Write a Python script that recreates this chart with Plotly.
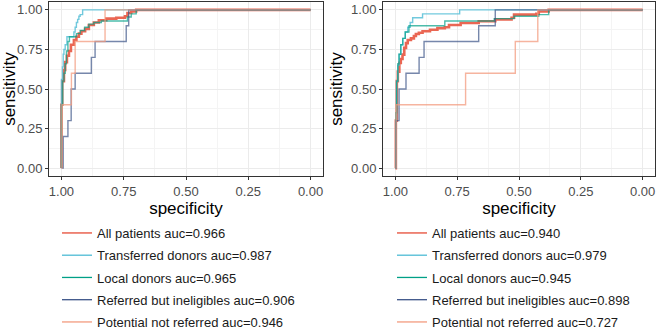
import plotly.graph_objects as go

# ---------------- data ----------------
series_names = ["All patients", "Transferred donors", "Local donors",
                "Referred but ineligibles", "Potential not referred"]
auc_left = [0.966, 0.987, 0.965, 0.906, 0.946]
auc_right = [0.940, 0.979, 0.945, 0.898, 0.727]
colors = ["rgba(230,75,53,0.85)", "rgba(77,187,213,0.8)", "rgba(0,160,135,0.7)",
          "rgba(60,84,136,0.7)", "rgba(243,155,127,0.75)"]
widths = [2.6, 1.4, 1.4, 1.4, 1.4]

# left panel: (specificity where the step occurs, sensitivity after the step)
L_all_spec = [1.0, 1.0, 0.997, 0.99, 0.985, 0.978, 0.97, 0.962, 0.95, 0.94, 0.93, 0.92,
              0.905, 0.89, 0.87, 0.85, 0.82, 0.78, 0.745, 0.735, 0.72, 0.70, 0.0]
L_all_sens = [0.0, 0.40, 0.55, 0.62, 0.67, 0.71, 0.74, 0.78, 0.81, 0.83, 0.85, 0.865,
              0.88, 0.905, 0.92, 0.935, 0.945, 0.95, 0.96, 0.98, 0.99, 1.0, 1.0]
L_tra_spec = [1.0, 1.0, 0.996, 0.993, 0.99, 0.985, 0.978, 0.955, 0.95, 0.945, 0.94, 0.935,
              0.93, 0.925, 0.915, 0.0]
L_tra_sens = [0.0, 0.56, 0.64, 0.72, 0.75, 0.78, 0.83, 0.83, 0.86, 0.89, 0.92, 0.94,
              0.96, 0.97, 1.0, 1.0]
L_loc_spec = [1.0, 1.0, 0.995, 0.99, 0.985, 0.98, 0.974, 0.968, 0.95, 0.94, 0.925, 0.907,
              0.89, 0.87, 0.84, 0.745, 0.735, 0.72, 0.70, 0.0]
L_loc_sens = [0.0, 0.40, 0.55, 0.60, 0.66, 0.74, 0.80, 0.83, 0.83, 0.85, 0.87, 0.89,
              0.91, 0.92, 0.93, 0.93, 0.955, 0.975, 1.0, 1.0]
L_ref_spec = [1.0, 0.993, 0.974, 0.961, 0.945, 0.88, 0.865, 0.74, 0.73, 0.0]
L_ref_sens = [0.0, 0.2, 0.3, 0.5, 0.6, 0.7, 0.8, 0.9, 1.0, 1.0]
L_pot_spec = [1.0, 0.998, 0.96, 0.945, 0.825, 0.0]
L_pot_sens = [0.0, 0.4, 0.6, 0.8, 1.0, 1.0]

# right panel
R_all_spec = [1.0, 0.998, 0.994, 0.99, 0.984, 0.978, 0.971, 0.964, 0.957, 0.95, 0.937,
              0.925, 0.917, 0.905, 0.89, 0.86, 0.83, 0.80, 0.783, 0.736, 0.663, 0.596,
              0.53, 0.52, 0.43, 0.42, 0.38, 0.0]
R_all_sens = [0.0, 0.3, 0.55, 0.61, 0.665, 0.69, 0.717, 0.76, 0.79, 0.81, 0.82,
              0.835, 0.848, 0.856, 0.865, 0.875, 0.885, 0.89, 0.905, 0.917, 0.928, 0.94,
              0.95, 0.97, 0.975, 0.99, 1.0, 1.0]
R_tra_spec = [1.0, 0.998, 0.995, 0.99, 0.985, 0.978, 0.97, 0.96, 0.95, 0.94, 0.93, 0.89,
              0.74, 0.0]
R_tra_sens = [0.0, 0.3, 0.55, 0.65, 0.72, 0.78, 0.82, 0.86, 0.89, 0.92, 0.95, 0.975,
              1.0, 1.0]
R_loc_spec = [1.0, 0.998, 0.995, 0.99, 0.985, 0.978, 0.97, 0.96, 0.945, 0.80, 0.60, 0.52,
              0.42, 0.38, 0.0]
R_loc_sens = [0.0, 0.35, 0.55, 0.66, 0.72, 0.78, 0.82, 0.86, 0.90, 0.93, 0.945, 0.96,
              0.97, 1.0, 1.0]
R_ref_spec = [1.0, 0.997, 0.985, 0.957, 0.904, 0.884, 0.663, 0.596, 0.0]
R_ref_sens = [0.0, 0.3, 0.5, 0.6, 0.7, 0.8, 0.9, 1.0, 1.0]
R_pot_spec = [1.0, 0.997, 0.716, 0.515, 0.424, 0.0]
R_pot_sens = [0.0, 0.4, 0.6, 0.8, 1.0, 1.0]

tick_vals = [0.0, 0.25, 0.5, 0.75, 1.0]
tick_text = ["0.00", "0.25", "0.50", "0.75", "1.00"]

left_data = [(L_all_spec, L_all_sens), (L_tra_spec, L_tra_sens), (L_loc_spec, L_loc_sens),
             (L_ref_spec, L_ref_sens), (L_pot_spec, L_pot_sens)]
right_data = [(R_all_spec, R_all_sens), (R_tra_spec, R_tra_sens), (R_loc_spec, R_loc_sens),
              (R_ref_spec, R_ref_sens), (R_pot_spec, R_pot_sens)]
legend_colors = ["#E64B35", "#4DBBD5", "#00A087", "#3C5488", "#F39B7F"]

# figure is slightly taller than the 330px window so the legends can sit as low
# as in the reference (plotly keeps legends inside the figure); overflow is hidden
W, H = 660, 340
fig = go.Figure()

for panel, data, aucs, leg, xa, ya in [("L", left_data, auc_left, "legend", "x", "y"),
                                      ("R", right_data, auc_right, "legend2", "x2", "y2")]:
    for i, (sx, sy) in enumerate(data):
        fig.add_trace(go.Scatter(
            x=sx, y=sy, mode="lines",
            line=dict(color=colors[i], width=widths[i], shape="hv"),
            name=f"{series_names[i]} auc={aucs[i]:.3f}", showlegend=False,
            legendgroup=f"{panel}{i}", xaxis=xa, yaxis=ya))
    # legend keys (thin lines like the reference key)
    for i in range(len(series_names)):
        fig.add_trace(go.Scatter(
            x=[None], y=[None], mode="lines",
            line=dict(color=legend_colors[i], width=1.3),
            name=f"{series_names[i]} auc={aucs[i]:.3f}", legend=leg,
            legendgroup=f"{panel}{i}", xaxis=xa, yaxis=ya))

def px_x(p):
    return p / W

def px_y(p):
    return 1 - p / H

axis_common = dict(
    tickvals=tick_vals, ticktext=tick_text, ticks="outside", ticklen=3,
    tickcolor="#333333", tickwidth=1, automargin=False,
    tickfont=dict(family="Liberation Sans, Arial", size=13, color="#4D4D4D"),
    showline=True, mirror=True, linecolor="#333333", linewidth=1,
    showgrid=True, gridcolor="#EBEBEB", gridwidth=1, zeroline=False,
    minor=dict(dtick=0.125, tick0=0, showgrid=True, gridcolor="#F4F4F4", gridwidth=0.5),
)
title_font = dict(family="Liberation Sans, Arial", size=17, color="#000000")

ydom = [px_y(176), px_y(2)]
fig.update_layout(
    width=W, height=H, margin=dict(l=0, r=0, t=0, b=0),
    paper_bgcolor="white", plot_bgcolor="white",
    font=dict(family="Liberation Sans, Arial"),
    xaxis=dict(domain=[px_x(49), px_x(323)], range=[1.05, -0.05],
               title=dict(text="specificity", font=title_font, standoff=2),
               anchor="y", **axis_common),
    yaxis=dict(domain=ydom, range=[-0.05, 1.05],
               title=dict(text="sensitivity", font=title_font, standoff=4),
               anchor="x", **axis_common),
    xaxis2=dict(domain=[px_x(383), px_x(655)], range=[1.05, -0.05],
                title=dict(text="specificity", font=title_font, standoff=2),
                anchor="y2", **axis_common),
    yaxis2=dict(domain=ydom, range=[-0.05, 1.05],
                title=dict(text="sensitivity", font=title_font, standoff=4),
                anchor="x2", **axis_common),
    legend=dict(x=px_x(57), y=px_y(218), xanchor="left", yanchor="top",
                font=dict(family="Liberation Sans, Arial", size=13, color="#1a1a1a"),
                tracegroupgap=2.35, bgcolor="rgba(0,0,0,0)"),
    legend2=dict(x=px_x(392), y=px_y(218), xanchor="left", yanchor="top",
                 font=dict(family="Liberation Sans, Arial", size=13, color="#1a1a1a"),
                 tracegroupgap=2.35, bgcolor="rgba(0,0,0,0)"),
    showlegend=True,
)

fig.write_html(
    "out.html", config={"displayModeBar": False},
    post_script=("document.documentElement.style.overflow='hidden';"
                 "document.body.style.overflow='hidden';"
                 "document.body.style.margin='0';document.body.style.padding='0';"))
